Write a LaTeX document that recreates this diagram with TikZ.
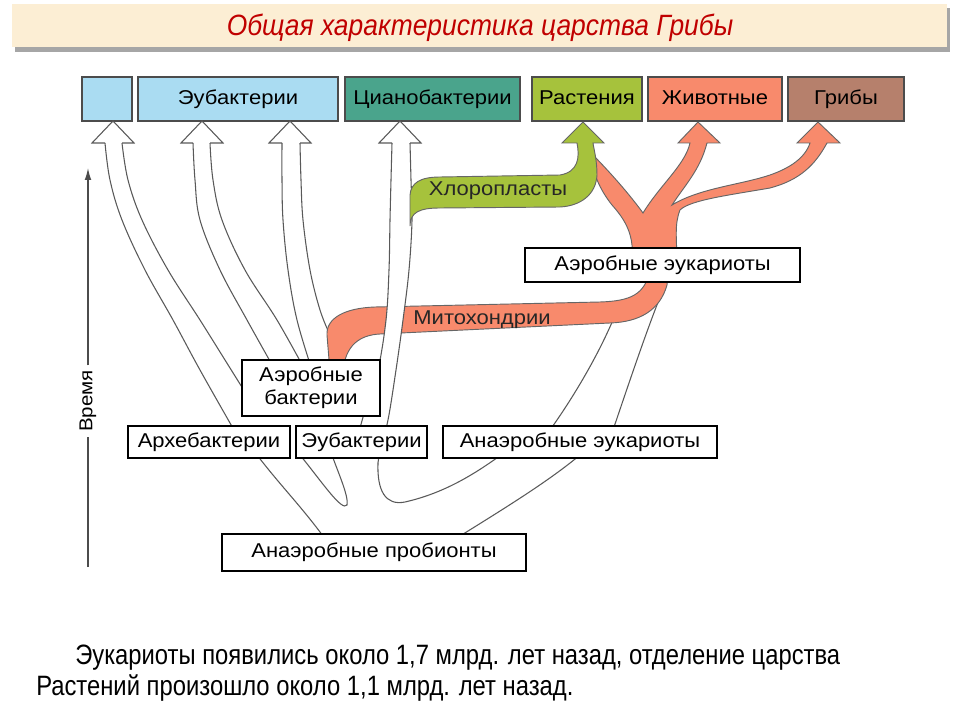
\documentclass[tikz,border=0pt]{standalone}
\usepackage{fontspec}
\setmainfont[FakeStretch=1.1]{Liberation Sans}
\newfontfamily\etroite[FakeStretch=0.85]{Liberation Sans}
\newfontfamily\titrefont[FakeStretch=0.9]{Liberation Sans}
\usepackage{tikz}
\usetikzlibrary{arrows.meta}
\definecolor{bleuclair}{RGB}{170,220,242}
\definecolor{sarcelle}{RGB}{74,164,140}
\definecolor{vert}{RGB}{166,194,60}
\definecolor{saumon}{RGB}{248,138,108}
\definecolor{brun}{RGB}{182,128,108}
\definecolor{creme}{RGB}{252,238,212}
\definecolor{rouge}{RGB}{192,0,0}

% tete de fleche creuse : pointe, bord gauche, bord droit
\newcommand{\pointe}[3]{%
  \fill[white] (#1-21,143) -- (#1,121) -- (#1+21,143) -- cycle;
  \draw[tube] (#2,143) -- (#1-21,143) -- (#1,121) -- (#1+21,143) -- (#3,143);}

\begin{document}
\begin{tikzpicture}[x=0.75pt,y=-0.75pt,
    haut/.style={draw=black!70,line width=1.1pt,inner sep=0pt,outer sep=0pt,
      minimum height=33pt,text height=11pt,text depth=3pt,
      font=\fontsize{15}{18}\selectfont},
    boite/.style={draw=black,fill=white,line width=1.9pt,inner sep=0pt,
      outer sep=0pt,align=center,font=\fontsize{15}{17}\selectfont},
    etiq/.style={text=black!85,font=\fontsize{15}{18}\selectfont},
    tube/.style={draw=black!65,line width=0.8pt},
    bande/.style={draw=black!60,line width=0.7pt}]
  \useasboundingbox (0,0) rectangle (960,720);

  % Bandeau du titre
  \fill[black!35] (15,8) rectangle (950,52);
  \fill[creme] (12,4) rectangle (947,47);
  \node[text=rouge,font=\titrefont\itshape\fontsize{22}{26}\selectfont] (Titre) at (480,28)
    {Общая характеристика царства Грибы};

  % Les six regnes en haut
  \node[haut,fill=bleuclair,minimum width=37.5pt] (Vide) at (107,99) {};
  \node[haut,fill=bleuclair,minimum width=150pt] (EubH) at (238,99) {Эубактерии};
  \node[haut,fill=sarcelle,minimum width=131.25pt] (Cyan) at (432.5,99) {Цианобактерии};
  \node[haut,fill=vert,minimum width=82.5pt] (Plan) at (587,99) {Растения};
  \node[haut,fill=saumon,minimum width=100.5pt] (Anim) at (715,99) {Животные};
  \node[haut,fill=brun,minimum width=87pt] (Gryb) at (846,99) {Грибы};

  % Tubes blancs (bords seulement)
  \draw[tube] plot[smooth,tension=0.6] coordinates {(105,143) (110,180) (122,220) (145,270) (173,320) (200,370) (234,430)};
  \draw[tube] plot[smooth,tension=0.6] coordinates {(122,143) (128,180) (142,220) (168,270) (200,320) (225,360) (250,400)};
  \draw[tube] plot[smooth,tension=0.6] coordinates {(193,143) (195,180) (200,220) (220,270) (247,320) (275,370)};
  \draw[tube] plot[smooth,tension=0.6] coordinates {(210,143) (213,180) (222,220) (245,270) (277,320) (305,370)};
  \draw[tube] plot[smooth,tension=0.6] coordinates {(282,143) (282,180) (283,220) (288,270) (297,320) (312,370)};
  \draw[tube] plot[smooth,tension=0.6] coordinates {(300,143) (301,180) (303,220) (310,270) (320,310) (330,335)};

  % Branches du bas
  \draw[tube] (257,455) .. controls (280,485) and (300,505) .. (323,536);
  \draw[tube] (300,455) .. controls (322,482) and (342,512) .. (347,505)
    .. controls (349,496) and (337,470) .. (332,455);
  \draw[tube] (460,536) .. controls (510,505) and (550,480) .. (580,455);
  \draw[tube] (550,430) .. controls (575,395) and (598,355) .. (613,320);
  \draw[tube] (613,430) .. controls (630,380) and (650,320) .. (667,280);

  % Mitochondries
  \path[bande,fill=saumon] (330,372) -- (327,335) .. controls (326,318) and (345,308) .. (375,307)
    -- (600,302) .. controls (630,301) and (645,295) .. (650,270) -- (668,270) -- (667,285)
    .. controls (660,310) and (640,322) .. (610,323) -- (380,334)
    .. controls (360,335) and (345,345) .. (343,372) -- cycle;
  \node[etiq] (Mito) at (482,320) {Митохондрии};

  % Tube des cyanobacteries (par-dessus)
  \fill[white] plot[smooth,tension=0.6] coordinates {(392,143) (391,180) (390,220) (389,270) (386,320) (378,370) (368,400) (360,428)}
    -- plot[smooth,tension=0.6] coordinates {(388,420) (396,370) (403,320) (409,270) (412,220) (411,180) (410,143)} -- cycle;
  \draw[tube] plot[smooth,tension=0.6] coordinates {(392,143) (391,180) (390,220) (389,270) (386,320) (378,370) (368,400) (360,428)};
  \draw[tube] plot[smooth,tension=0.6] coordinates {(410,143) (411,180) (412,220) (409,270) (403,320) (396,370) (388,420) (381,445) (378,463)};
  \draw[tube] (378,463) .. controls (377,490) and (385,506) .. (405,502)
    .. controls (440,494) and (470,478) .. (505,452);

  % Arbre des eucaryotes aerobies
  \path[bande,fill=saumon] (643,213) .. controls (660,185) and (685,165) .. (690,143)
    -- (678,143) -- (698,122) -- (720,143) -- (707,143)
    .. controls (700,170) and (685,185) .. (672,205)
    .. controls (700,188) and (740,185) .. (770,175)
    .. controls (790,168) and (805,158) .. (810,143)
    -- (797,143) -- (818,122) -- (840,143) -- (827,143)
    .. controls (815,165) and (800,180) .. (770,188)
    .. controls (730,195) and (690,200) .. (680,210)
    .. controls (674,225) and (677,240) .. (677,265) -- (632,265)
    .. controls (634,240) and (630,225) .. (612,205)
    .. controls (600,190) and (592,172) .. (590,152)
    .. controls (610,172) and (630,195) .. (643,213) -- cycle;

  % Chloroplastes
  \path[bande,fill=vert] (410,226) .. controls (410,212) and (420,208) .. (440,208)
    -- (560,207) .. controls (580,206) and (596,195) .. (597,175)
    .. controls (597,160) and (594,150) .. (593,143)
    -- (604,143) -- (583,122) -- (562,143) -- (577,143)
    .. controls (580,158) and (578,172) .. (560,175)
    -- (440,177) .. controls (420,177) and (411,183) .. (410,195) -- cycle;
  \node[etiq] (Chlo) at (498,191) {Хлоропласты};

  % Tetes des tubes blancs
  \pointe{113}{105}{122}
  \pointe{202}{193}{210}
  \pointe{290}{282}{300}
  \pointe{400}{392}{410}

  % Boites blanches
  \node[boite,minimum width=206.25pt,minimum height=25.5pt] (AerEuk) at (662.5,265) {Аэробные эукариоты};
  \node[boite,minimum width=103.5pt,minimum height=42pt] (AerBac) at (311,388) {Аэробные\\бактерии};
  \node[boite,minimum width=121.5pt,minimum height=24pt] (Arch) at (209,442) {Архебактерии};
  \node[boite,minimum width=98.25pt,minimum height=24pt] (Euba) at (361.5,442) {Эубактерии};
  \node[boite,minimum width=205.5pt,minimum height=24pt] (AnEuk) at (580,442) {Анаэробные эукариоты};
  \node[boite,minimum width=228pt,minimum height=27.75pt] (Prob) at (374,552.5) {Анаэробные пробионты};

  % Axe du temps
  \node[rotate=90,font=\fontsize{14}{16}\selectfont] (Temps) at (88,401) {Время};
  \draw[black!70,line width=0.9pt] (88,567) -- (Temps.west);
  \draw[black!70,line width=0.9pt,-{Latex[length=9pt,width=5pt]}] (Temps.east) -- (88,168);

  % Texte du bas
  \node[anchor=base west,inner sep=0pt,font=\etroite\fontsize{21}{24}\selectfont] (Phr1) at (75,664)
    {Эукариоты появились около 1,7 млрд. лет назад, отделение царства};
  \node[anchor=base west,inner sep=0pt,font=\etroite\fontsize{21}{24}\selectfont] (Phr2) at (36,695)
    {Растений произошло около 1,1 млрд. лет назад.};
\end{tikzpicture}
\end{document}
